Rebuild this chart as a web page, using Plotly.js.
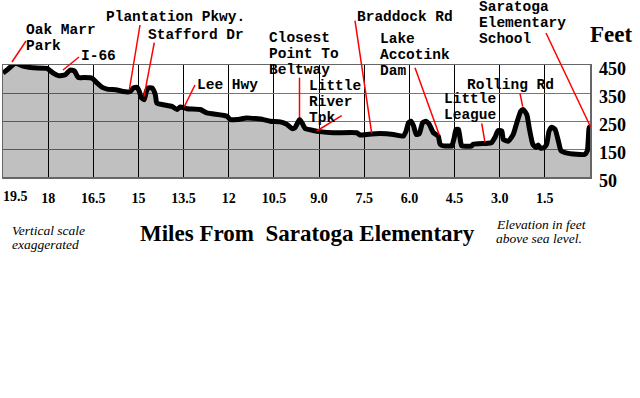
<!DOCTYPE html>
<html>
<head>
<meta charset="utf-8">
<script src="https://cdn.plot.ly/plotly-3.0.1.min.js"></script>
<style>html,body{margin:0;padding:0;background:#fff;}#chart{width:640px;height:398px;}</style>
</head>
<body>
<div id="chart"></div>
<script>
// ---- data ----
const miles = [19.5, 19.37, 19.09, 18.93, 18.76, 18.49, 18.04, 17.83, 17.66, 17.43, 17.27, 17.13, 17.0, 16.83, 16.54, 16.37, 16.20, 16.04, 15.71, 15.51, 15.27, 15.17, 15.04, 14.97, 14.91, 14.81, 14.74, 14.68, 14.55, 14.44, 14.39, 14.17, 13.89, 13.72, 13.61, 13.39, 12.95, 12.73, 12.06, 11.95, 11.73, 11.40, 10.85, 10.63, 10.29, 10.07, 9.90, 9.80, 9.71, 9.65, 9.57, 9.46, 9.19, 8.97, 8.52, 7.75, 7.64, 7.42, 6.97, 6.53, 6.20, 6.11, 6.03, 5.95, 5.86, 5.77, 5.67, 5.56, 5.45, 5.34, 5.20, 5.04, 4.98, 4.87, 4.65, 4.59, 4.51, 4.45, 4.37, 4.32, 4.26, 3.93, 3.88, 3.43, 3.27, 3.16, 3.05, 2.93, 2.88, 2.71, 2.55, 2.43, 2.30, 2.22, 2.10, 2.02, 1.90, 1.79, 1.72, 1.64, 1.53, 1.44, 1.36, 1.27, 1.16, 1.05, 0.96, 0.83, 0.44, 0.17, 0.09, 0.06, 0.03, 0.0];
const elevationFt = [421, 432, 456, 450, 444, 440, 438, 421, 412, 415, 432, 429, 405, 405, 403, 385, 370, 364, 361, 355, 355, 368, 370, 355, 334, 326, 355, 368, 368, 344, 314, 308, 302, 291, 300, 294, 291, 279, 267, 255, 255, 261, 255, 249, 247, 238, 223, 226, 244, 255, 244, 223, 216, 212, 208, 208, 200, 202, 205, 202, 196, 214, 244, 249, 232, 202, 205, 244, 249, 238, 208, 196, 167, 161, 161, 161, 191, 220, 220, 191, 161, 161, 167, 170, 173, 191, 216, 214, 184, 178, 202, 244, 285, 291, 273, 226, 167, 155, 164, 153, 155, 167, 214, 228, 220, 178, 143, 137, 131, 131, 143, 178, 228, 215];

const xTickVals = [19.5, 18, 16.5, 15, 13.5, 12, 10.5, 9, 7.5, 6, 4.5, 3, 1.5];
const xTickText = ['19.5', '18', '16.5', '15', '13.5', '12', '10.5', '9.0', '7.5', '6.0', '4.5', '3.0', '1.5'];
const yTickVals = [450, 350, 250, 150, 50];
const yTickText = ['450', '350', '250', '150', '50'];

const landmarkLines = [
  ['Oak Marr', 'Park'],
  ['I-66'],
  ['Plantation Pkwy.'],
  ['Stafford Dr'],
  ['Lee Hwy'],
  ['Closest', 'Point To', 'Beltway'],
  ['Little', 'River', 'Tpk'],
  ['Braddock Rd'],
  ['Lake', 'Accotink', 'Dam'],
  ['Little', 'League'],
  ['Rolling Rd'],
  ['Saratoga', 'Elementary', 'School']
];

const xTitle = 'Miles From\u00A0 Saratoga Elementary';
const yTitle = 'Feet';
const noteLeft = ['Vertical scale', 'exaggerated'];
const noteRight = ['Elevation in feet', 'above sea level.'];

// ---- layout geometry (pixels) ----
const M = {l: 3, r: 50, t: 65, b: 221};
const W = 640, H = 398;
const PW = W - M.l - M.r, PH = H - M.t - M.b;
const px = v => (v - M.l) / PW;
const py = v => (H - M.b - v) / PH;

// label placement: text left x, first line centre y, line gap, leader line from/to
const place = [
  {x: 25, y: 30, gap: 15.5, l: [26, 41, 12, 62]},
  {x: 80, y: 56.5, gap: 16, l: [79, 57, 63, 70]},
  {x: 105, y: 16.7, gap: 16, l: [140, 25, 129.3, 90]},
  {x: 146.5, y: 35, gap: 16, l: [154.3, 42.7, 144, 96.7]},
  {x: 196, y: 85, gap: 16, l: [195, 85, 184.3, 106.7]},
  {x: 267.8, y: 37.7, gap: 16.2, l: [299.5, 77.7, 299.5, 117]},
  {x: 307.5, y: 85.7, gap: 16, l: [341.7, 115.7, 316.7, 131]},
  {x: 356, y: 16.7, gap: 16, l: [355, 20.7, 371.7, 133.3]},
  {x: 378.5, y: 39.3, gap: 16, l: [415, 67.7, 439.3, 135]},
  {x: 442.5, y: 99, gap: 16, l: [481.7, 123.3, 485, 142.3]},
  {x: 466, y: 85, gap: 16, l: [520, 93.3, 522.7, 106.7]},
  {x: 477.5, y: 7.3, gap: 16, l: [546, 33, 590.5, 126.7]}
];

const monoFont = {family: 'Liberation Mono, Courier New, monospace', size: 14.5, color: '#000', weight: 'bold'};
const serif = 'Liberation Serif, Times New Roman, serif';

const annotations = [];
const shapes = [];
landmarkLines.forEach((lines, i) => {
  const p = place[i];
  lines.forEach((t, k) => {
    annotations.push({
      xref: 'paper', yref: 'paper', x: px(p.x), y: py(p.y + k * p.gap),
      xanchor: 'left', yanchor: 'middle', text: t, showarrow: false,
      font: monoFont, borderpad: 0
    });
  });
  shapes.push({
    type: 'line', xref: 'paper', yref: 'paper', layer: 'above',
    x0: px(p.l[0]), y0: py(p.l[1]), x1: px(p.l[2]), y1: py(p.l[3]),
    line: {color: '#ff0000', width: 1.5}
  });
});

// x title, y title, notes
annotations.push({xref: 'paper', yref: 'paper', x: px(307), y: py(233), xanchor: 'center', yanchor: 'middle',
  text: xTitle, showarrow: false, font: {family: serif, size: 23, color: '#000', weight: 'bold'}});
annotations.push({xref: 'paper', yref: 'paper', x: px(611), y: py(34), xanchor: 'center', yanchor: 'middle',
  text: yTitle, showarrow: false, font: {family: serif, size: 23, color: '#000', weight: 'bold'}});
noteLeft.forEach((t, k) => annotations.push({xref: 'paper', yref: 'paper', x: px(11), y: py(230 + k * 14), xanchor: 'left', yanchor: 'middle',
  text: t, showarrow: false, borderpad: 0, font: {family: serif, size: 13.5, color: '#000', style: 'italic'}}));
noteRight.forEach((t, k) => annotations.push({xref: 'paper', yref: 'paper', x: px(495), y: py(224 + k * 14), xanchor: 'left', yanchor: 'middle',
  text: t, showarrow: false, borderpad: 0, font: {family: serif, size: 13.5, color: '#000', style: 'italic'}}));

// first x tick label sits inside the left edge in the reference
annotations.push({xref: 'x', yref: 'paper', x: xTickVals[0], y: py(196), xanchor: 'center', yanchor: 'middle', xshift: 12,
  text: xTickText[0], showarrow: false, font: {family: serif, size: 14, color: '#000', weight: 'bold'}});

const trace = {
  x: miles, y: elevationFt, type: 'scatter', mode: 'lines',
  line: {color: '#000', width: 5, shape: 'spline', smoothing: 0.5},
  fill: 'tozeroy', fillcolor: 'rgba(0,0,0,0.247)',
  cliponaxis: false, hoverinfo: 'skip'
};

const layout = {
  width: W, height: H,
  margin: M,
  paper_bgcolor: '#fff', plot_bgcolor: '#fff',
  showlegend: false,
  xaxis: {
    range: [19.5, 0], autorange: false,
    tickmode: 'array', tickvals: xTickVals.slice(1), ticktext: xTickText.slice(1),
    showgrid: true, gridcolor: '#000', gridwidth: 1,
    zeroline: false, showline: true, mirror: true, linecolor: '#666', linewidth: 1.5,
    ticks: '', ticklabelstandoff: 8,
    tickfont: {family: serif, size: 14, color: '#000', weight: 'bold'}
  },
  yaxis: {
    range: [50, 450], autorange: false, side: 'right',
    tickmode: 'array', tickvals: yTickVals, ticktext: yTickText,
    showgrid: true, gridcolor: '#777', gridwidth: 1,
    zeroline: false, showline: true, mirror: true, linecolor: '#666', linewidth: 1.5,
    ticks: '', ticklabelstandoff: 4, ticklabelshift: 4,
    tickfont: {family: serif, size: 18, color: '#000', weight: 'bold'}
  },
  annotations: annotations,
  shapes: shapes
};

Plotly.newPlot('chart', [trace], layout, {staticPlot: true, displayModeBar: false});
</script>
</body>
</html>
